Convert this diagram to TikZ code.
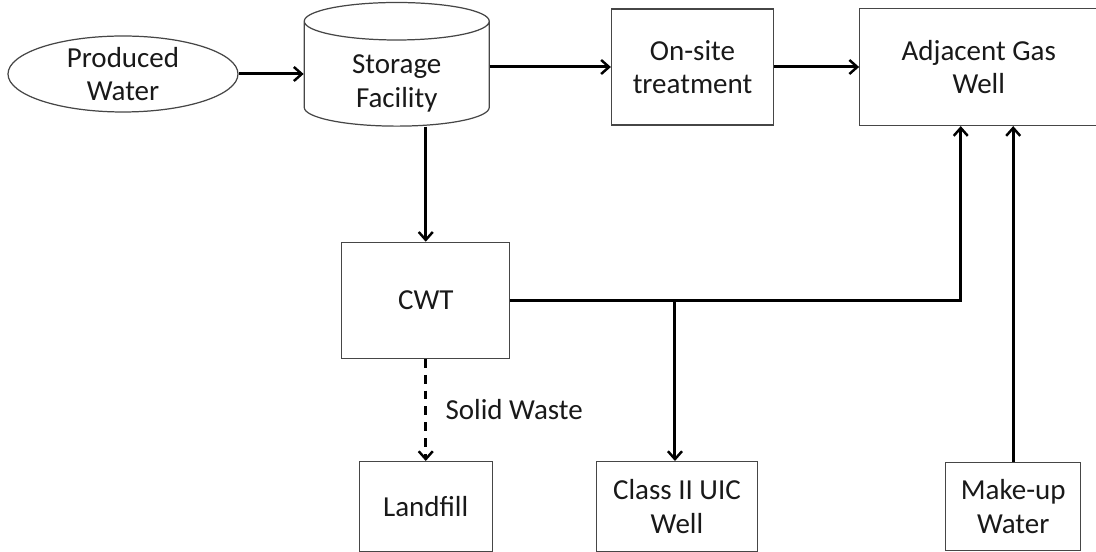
\documentclass[tikz,border=0pt]{standalone}
\usepackage{fontspec}
\setmainfont{Carlito}
\usetikzlibrary{arrows.meta,shapes.geometric,positioning}
\definecolor{pwline}{RGB}{70,70,70}
\definecolor{pwtext}{RGB}{25,25,25}
\tikzstyle{pipe} = [line width=1.7pt, -{Straight Barb[length=4.5pt,width=8pt,line width=1.4pt]}, color=black]
\tikzstyle{plant} = [rectangle, draw=pwline, line width=0.7pt, text=pwtext, align=center, inner sep=0pt, font=\fontsize{16.5}{19}\selectfont]
\tikzstyle{source} = [ellipse, draw=pwline, line width=0.7pt, text=pwtext, align=center, inner sep=0pt, font=\fontsize{16.5}{19}\selectfont]
\tikzstyle{tank} = [cylinder, shape border rotate=90, aspect=0.42, draw=pwline, line width=0.7pt, text=pwtext, inner sep=0pt, font=\fontsize{16.5}{19}\selectfont]

\begin{document}
\begin{tikzpicture}
\useasboundingbox (-2.46,1.48) rectangle (19.46,-9.56);
% Top row
\node (prod) [source, minimum width=4.6cm, minimum height=1.44cm] {Produced\\Water};
\node (store) [tank, right=1.3cm of prod, minimum width=3.7cm, minimum height=2.0cm]
  {\raisebox{-0.2cm}[\height][\depth]{\begin{tabular}{@{}c@{}}Storage\\Facility\end{tabular}}};
\node (onsite) [plant, right=2.42cm of store, yshift=0.14cm, minimum width=3.24cm, minimum height=2.32cm] {On-site\\treatment};
\node (gaswell) [plant, right=1.7cm of onsite, minimum width=4.76cm, minimum height=2.34cm] {Adjacent Gas\\Well};

% Lower part
\node (cwt) [plant, below=2.3cm of store, xshift=0.58cm, minimum width=3.36cm, minimum height=2.32cm] {CWT};
\node (landfill) [plant, below=2.04cm of cwt, minimum width=2.66cm, minimum height=1.8cm] {Landfill};
\node (uic) [plant, right=2.06cm of landfill, minimum width=3.22cm, minimum height=1.8cm] {Class II UIC\\Well};
\node (makeup) [plant, right=3.74cm of uic, minimum width=2.7cm, minimum height=1.76cm] {Make-up\\Water};

\coordinate (gwin) at ([xshift=-0.36cm]gaswell.south);
\coordinate (split) at ([xshift=-0.04cm]uic.north |- cwt.east);
\coordinate (mkin) at (makeup |- gaswell.south);

\draw[pipe] (prod) -- (store.west);
\draw[pipe] (store.east |- onsite.west) -- (onsite.west);
\draw[pipe] (onsite) -- (gaswell);
\draw[pipe] (cwt.north |- store.south) -- (cwt);
\draw[pipe] (cwt) -| (gwin);
\draw[pipe] (split) -- (split |- uic.north);
\draw[pipe, dashed, dash pattern=on 5pt off 4pt] (cwt) -- node[right=0.25cm, text=pwtext, font=\fontsize{16.5}{19}\selectfont] {Solid Waste} (landfill);
\draw[pipe] (makeup) -- (mkin);
\end{tikzpicture}
\end{document}
